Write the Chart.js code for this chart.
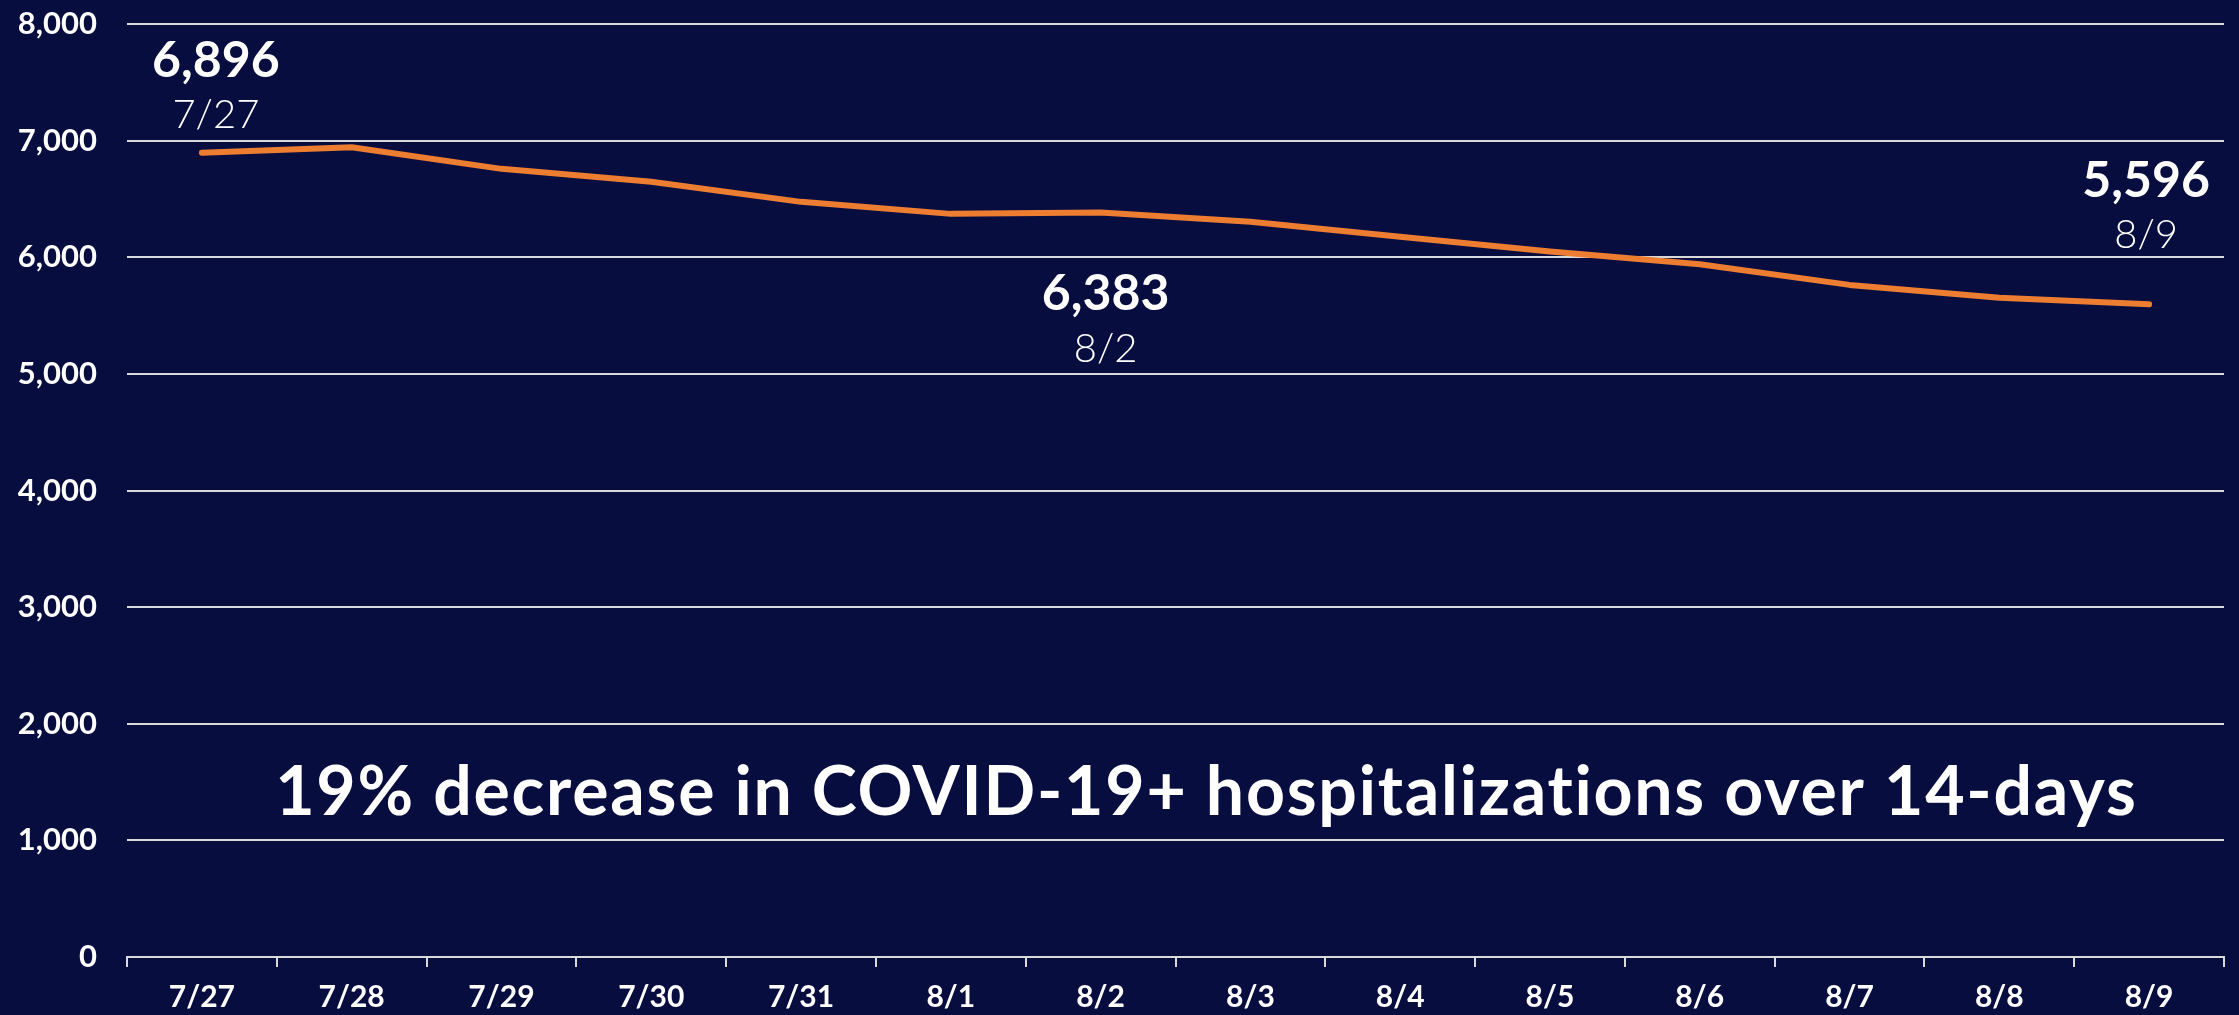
<!DOCTYPE html>
<html>
<head>
<meta charset="utf-8">
<script src="https://cdn.jsdelivr.net/npm/chart.js@4.4.1/dist/chart.umd.min.js"></script>
<style>
  html, body { margin: 0; padding: 0; background: #080d40; }
  #wrap { position: relative; width: 2239px; height: 1015px; }
</style>
</head>
<body>
<div id="wrap"><canvas id="hospChart"></canvas></div>
<script>
// --- DATA ---
const dates = ['7/27', '7/28', '7/29', '7/30', '7/31', '8/1', '8/2', '8/3', '8/4', '8/5', '8/6', '8/7', '8/8', '8/9'];
const hospitalized = [6896, 6943, 6758, 6647, 6475, 6372, 6383, 6304, 6175, 6050, 5940, 5763, 5652, 5596];
const yTicks = [0, 1000, 2000, 3000, 4000, 5000, 6000, 7000, 8000];
const calloutIndexes = [0, 6, 13];
const headline = '19% decrease in COVID-19+ hospitalizations over 14-days';

// --- STYLE ---
const BG = '#080d40';
const LINE = '#ed7d31';
const GRID = '#d9d9d9';
const FONT = 'Lato, "Open Sans", sans-serif';

// callout placement relative to its point: [dx, number baseline dy, date baseline dy]
const calloutOffsets = {
    0: [14, -76, -25],
    6: [5, 97, 149],
    13: [-3, -107, -56]
};

const calloutPlugin = {
    id: 'callouts',
    afterDatasetsDraw(chart) {
        const { ctx, scales } = chart;
        const x = scales.x, y = scales.y;
        ctx.save();
        ctx.fillStyle = '#ffffff';
        ctx.textAlign = 'center';
        ctx.textBaseline = 'alphabetic';

        calloutIndexes.forEach(i => {
            const [dx, dyNum, dyDate] = calloutOffsets[i];
            const px = x.getPixelForValue(i) + dx;
            const py = y.getPixelForValue(hospitalized[i]);
            ctx.font = 'bold 50px ' + FONT;
            ctx.fillText(hospitalized[i].toLocaleString('en-US'), px, py + dyNum);
            ctx.font = '300 40px ' + FONT;
            ctx.fillText(dates[i], px, py + dyDate);
        });

        // headline across the lower part of the plot
        const hx = x.getPixelForValue(6.7);
        const hy = y.getPixelForValue(1220);
        ctx.font = 'bold 68px ' + FONT;
        const target = 1862;
        const w = ctx.measureText(headline).width;
        const spacing = (target - w) / (headline.length - 1);
        ctx.letterSpacing = spacing.toFixed(2) + 'px';
        const w2 = ctx.measureText(headline).width;
        ctx.textAlign = 'left';
        ctx.fillText(headline, hx - (w2 - spacing) / 2, hy);
        ctx.restore();
    }
};

const bgPlugin = {
    id: 'bg',
    beforeDraw(chart) {
        const ctx = chart.ctx;
        ctx.save();
        ctx.fillStyle = BG;
        ctx.fillRect(0, 0, chart.width, chart.height);
        ctx.restore();
    }
};

const ctx = document.getElementById('hospChart').getContext('2d');
new Chart(ctx, {
    type: 'line',
    data: {
        labels: dates,
        datasets: [{
            data: hospitalized,
            borderColor: LINE,
            borderWidth: 6,
            borderCapStyle: 'round',
            borderJoinStyle: 'round',
            pointRadius: 0,
            tension: 0,
            fill: false
        }]
    },
    options: {
        responsive: true,
        maintainAspectRatio: false,
        animation: false,
        layout: { padding: { top: 24, right: 15, left: 0, bottom: 0 } },
        plugins: {
            legend: { display: false },
            tooltip: { enabled: false }
        },
        scales: {
            x: {
                offset: true,
                grid: {
                    display: true,
                    drawOnChartArea: false,
                    offset: true,
                    color: GRID,
                    lineWidth: 2,
                    tickLength: 10
                },
                border: { display: true, color: GRID, width: 2 },
                ticks: {
                    color: '#ffffff',
                    font: { family: FONT, size: 30, weight: 'bold' },
                    padding: 12,
                    maxRotation: 0,
                    autoSkip: false
                },
                afterFit(scale) {
                    scale.height = 58;
                    scale.paddingLeft = 0;
                    scale.paddingRight = 0;
                }
            },
            y: {
                min: 0,
                max: 8000,
                afterBuildTicks(scale) { scale.ticks = yTicks.map(v => ({ value: v })); },
                grid: {
                    color: GRID,
                    lineWidth: 2,
                    drawTicks: false
                },
                border: { display: false },
                ticks: {
                    color: '#ffffff',
                    font: { family: FONT, size: 31, weight: 'bold' },
                    padding: 30,
                    callback: v => v.toLocaleString('en-US')
                },
                afterFit(scale) {
                    scale.width = 127;
                    scale.paddingTop = 0;
                    scale.paddingBottom = 0;
                }
            }
        }
    },
    plugins: [bgPlugin, calloutPlugin]
});
</script>
</body>
</html>
